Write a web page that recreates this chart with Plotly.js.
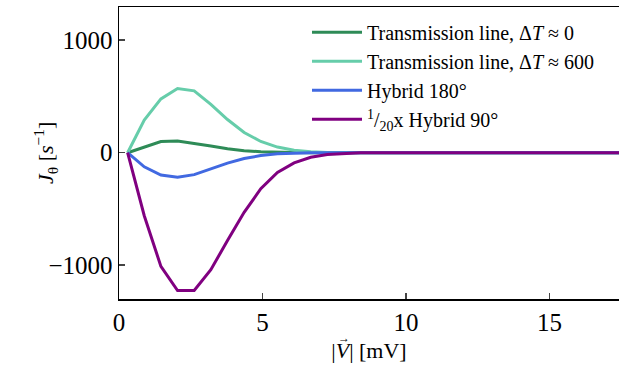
<!DOCTYPE html>
<html><head><meta charset="utf-8">
<script src="https://cdn.plot.ly/plotly-3.0.1.min.js"></script>
<style>html,body{margin:0;padding:0;background:#fff}#c{width:619px;height:371px}</style>
</head><body><div id="c"></div>
<script>
const voltage = [0.3,0.88,1.46,2.04,2.62,3.2,3.78,4.36,4.94,5.52,6.1,6.68,7.26,7.84,8.42,9.0,9.58,10.16,10.74,11.32,11.9,12.48,13.06,13.64,14.22,14.8,15.38,15.96,16.54,17.12,17.7];
const tlZero   = [0,52,100,105,85,60,35,18,8,3,1,0,0,0,0,0,0,0,0,0,0,0,0,0,0,0,0,0,0,0,0];
const tl600    = [0,290,478,570,550,430,295,180,100,50,22,9,3,1,0,0,0,0,0,0,0,0,0,0,0,0,0,0,0,0,0];
const hyb180   = [0,-125,-198,-218,-195,-145,-92,-52,-25,-10,-4,-1,0,0,0,0,0,0,0,0,0,0,0,0,0,0,0,0,0,0,0];
const hyb90    = [0,-560,-1010,-1225,-1225,-1040,-780,-530,-320,-175,-90,-40,-15,-5,-1,0,0,0,0,0,0,0,0,0,0,0,0,0,0,0,0];
const seriesNames = ['Transmission line, Δ<i>T</i> ≈ 0','Transmission line, Δ<i>T</i> ≈ 600','Hybrid 180°','<sup>1</sup>/<sub>20</sub>x Hybrid 90°'];
const xTickVals = [0,5,10,15];
const yTickVals = [-1000,0,1000];
const yTickText = ['−1000','0','1000'];
const colors = ['#2e8b57','#66cdaa','#4169e1','#800080'];
const series = [tlZero, tl600, hyb180, hyb90];
const FAM = 'Liberation Serif';
const traces = series.map((s,i)=>({x:voltage,y:s,type:'scatter',mode:'lines',name:seriesNames[i],legendgroup:'g'+i,line:{color:colors[i],width:3}}));
const layout = {
  width:619, height:371,
  margin:{l:119,r:0,t:7,b:72},
  paper_bgcolor:'#fff', plot_bgcolor:'#fff',
  font:{family:FAM,color:'#000',size:20},
  showlegend:true,
  legend:{x:0.376,y:0.98,xanchor:'left',yanchor:'top',bgcolor:'rgba(0,0,0,0)',font:{family:FAM,size:20,color:'#000'},tracegroupgap:0,itemwidth:50},
  xaxis:{range:[0,17.42],tickmode:'array',tickvals:xTickVals,ticks:'inside',ticklen:6,tickwidth:1.5,linewidth:1.5,linecolor:'#000',showline:true,mirror:true,showgrid:false,zeroline:false,
    tickfont:{family:FAM,size:25,color:'#000'},title:{text:'|<i>V</i>| [mV]',font:{family:FAM,size:22,color:'#000'},standoff:8}},
  yaxis:{range:[-1300,1295],tickmode:'array',tickvals:yTickVals,ticktext:yTickText,ticks:'inside',ticklen:6,tickwidth:1.5,linewidth:1.5,linecolor:'#000',showline:true,mirror:false,showgrid:false,zeroline:false,
    tickfont:{family:FAM,size:25,color:'#000'}},
  annotations:[
    {xref:'paper',yref:'paper',x:0.449,y:-0.133,text:'→',showarrow:false,font:{family:FAM,size:12},xanchor:'center',yanchor:'middle'},
    {xref:'paper',yref:'paper',x:-0.148,y:0.5,text:'<i>J</i><sub>θ</sub> [<i>s</i><sup>−1</sup>]',textangle:-90,showarrow:false,font:{family:FAM,size:22,color:'#000'},xanchor:'center',yanchor:'middle'}
  ]
};
Plotly.newPlot('c', traces, layout, {staticPlot:true});
</script></body></html>
